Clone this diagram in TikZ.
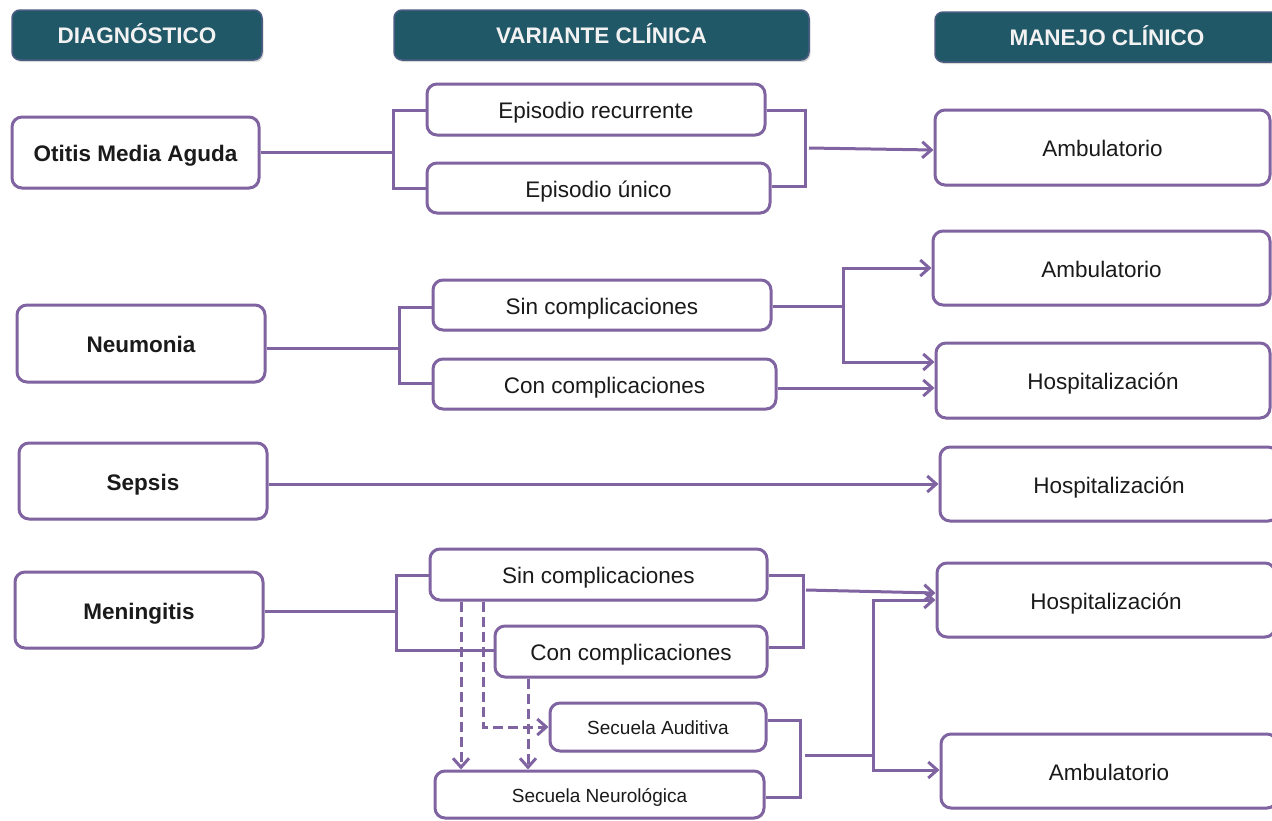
\documentclass[tikz,border=0pt]{standalone}
\usepackage{fontspec}
\setmainfont{Liberation Sans}
\usetikzlibrary{arrows.meta,shadows}
\definecolor{lila}{HTML}{8064A2}
\definecolor{petrol}{HTML}{215868}
\definecolor{ink}{HTML}{1A1A1A}

\begin{document}
\begin{tikzpicture}[x=1pt,y=-1pt,
  box/.style={draw=lila, line width=3pt, rounded corners=10pt, fill=white,
    inner sep=0pt, text=ink, font=\fontsize{22.5}{26}\selectfont,
    text height=20pt, text depth=2pt,
    drop shadow={opacity=0.18, shadow xshift=1.2pt, shadow yshift=-1.5pt}},
  dxbox/.style={box, font=\bfseries\fontsize{22.5}{26}\selectfont},
  smallbox/.style={box, font=\fontsize{19}{22}\selectfont, text height=17pt, text depth=2pt},
  head/.style={fill=petrol, draw=lila!45!petrol, line width=1.5pt, rounded corners=8pt,
    inner sep=0pt, text=white!95!black, font=\bfseries\fontsize{22.5}{26}\selectfont,
    text height=18pt, text depth=2pt,
    drop shadow={opacity=0.3, shadow xshift=1.5pt, shadow yshift=-2pt}},
  link/.style={draw=lila, line width=3pt},
  arr/.style={link, -{Straight Barb[length=9pt,width=16pt,line width=3pt]}},
  dashlink/.style={arr, dash pattern=on 10pt off 5pt},
]
\useasboundingbox (0,0) rectangle (1272,820);

% column headers
\node[head, minimum width=250, minimum height=50] (hDx) at (137,35) {DIAGN\'OSTICO};
\node[head, minimum width=415, minimum height=50] (hVar) at (601.5,35) {VARIANTE CL\'INICA};
\node[head, minimum width=344, minimum height=50] (hMan) at (1107,37) {MANEJO CL\'INICO};

% diagnoses
\node[dxbox, minimum width=247, minimum height=71] (oma) at (135.5,152.5) {Otitis Media Aguda};
\node[dxbox, minimum width=248, minimum height=77] (neu) at (141,343.5) {Neumonia};
\node[dxbox, minimum width=248, minimum height=76] (sep) at (143,481) {Sepsis};
\node[dxbox, minimum width=248, minimum height=76] (men) at (139,610) {Meningitis};

% clinical variants
\node[box, minimum width=338, minimum height=51] (rec) at (596,109.5) {Episodio recurrente};
\node[box, minimum width=343, minimum height=50] (uni) at (598.5,188) {Episodio \'unico};
\node[box, minimum width=338, minimum height=50] (sin1) at (602,305) {Sin complicaciones};
\node[box, minimum width=343, minimum height=50] (con1) at (604.5,384) {Con complicaciones};
\node[box, minimum width=337, minimum height=51] (sin2) at (598.5,574.5) {Sin complicaciones};
\node[box, minimum width=272, minimum height=51] (con2) at (631,651.5) {Con complicaciones};
\node[smallbox, minimum width=216, minimum height=48] (aud) at (658,727) {Secuela Auditiva};
\node[smallbox, minimum width=329, minimum height=47] (neuro) at (599.5,794.5) {Secuela Neurol\'ogica};

% clinical management
\node[box, minimum width=335, minimum height=75] (amb1) at (1102.5,147.5) {Ambulatorio};
\node[box, minimum width=337, minimum height=74] (amb2) at (1101.5,268) {Ambulatorio};
\node[box, minimum width=334, minimum height=75] (hos2) at (1103,380.5) {Hospitalizaci\'on};
\node[box, minimum width=338, minimum height=74] (hos3) at (1109,484) {Hospitalizaci\'on};
\node[box, minimum width=338, minimum height=74] (hos4) at (1106,600) {Hospitalizaci\'on};
\node[box, minimum width=336, minimum height=74] (amb4) at (1109,771) {Ambulatorio};

% Otitis media aguda
\draw[link] (oma.east) -- (393,152.5);
\draw[link] (rec.west |- 0,110) -| (393,188) -- (uni.west |- 0,188);
\draw[link] (rec.east |- 0,110) -| (805,186) -- (uni.east |- 0,186);
\coordinate (j1) at (809,148);
\draw[arr] (j1) -- (amb1.west |- 0,150);

% Neumonia
\draw[link] (neu.east |- 0,348) -- (399,348);
\draw[link] (sin1.west |- 0,307) -| (399,383) -- (con1.west |- 0,383);
\coordinate (j2) at (843,306);
\draw[link] (sin1.east |- 0,306) -- (j2);
\draw[arr] (j2) |- (amb2.west |- 0,268);
\draw[arr] (j2) |- (hos2.west |- 0,362);
\draw[arr] (con1.east |- 0,388) -- (hos2.west |- 0,388);

% Sepsis
\draw[arr] (sep.east |- 0,484) -- (hos3.west |- 0,484);

% Meningitis
\draw[link] (men.east |- 0,611) -- (396,611);
\draw[link] (sin2.west |- 0,575) -| (396,650) -- (con2.west |- 0,650);
\draw[link] (sin2.east |- 0,575) -| (803,647) -- (con2.east |- 0,647);
\coordinate (j3) at (806,590);
\draw[arr] (j3) -- (hos4.west |- 0,593);

% sequelae
\draw[dashlink] (sin2.south -| 461,0) -- (neuro.north -| 461,0);
\draw[dashlink] (sin2.south -| 483,0) |- (aud.west);
\draw[dashlink] (con2.south -| 528,0) -- (neuro.north -| 528,0);
\draw[link] (aud.east |- 0,720) -| (800,797) -- (neuro.east |- 0,797);
\coordinate (j4) at (873,755);
\draw[link] (805,755) -- (j4);
\draw[arr] (j4) |- (hos4.west |- 0,600);
\draw[arr] (j4) |- (amb4.west |- 0,770);
\end{tikzpicture}
\end{document}
